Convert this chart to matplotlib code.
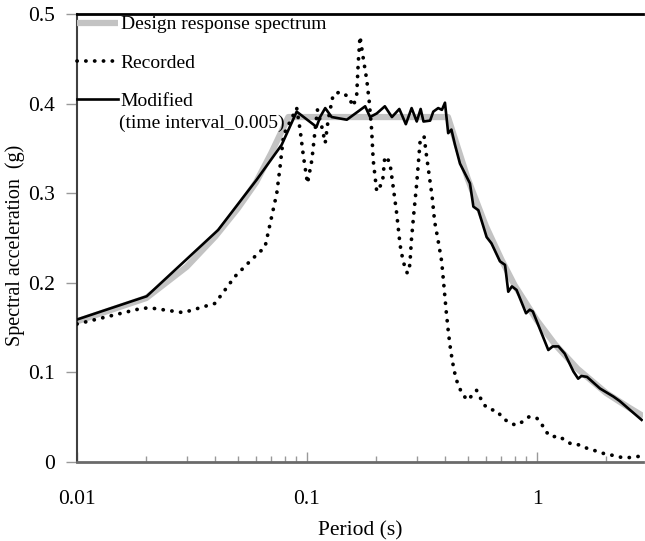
import numpy as np
import matplotlib
matplotlib.use('Agg')
import matplotlib.pyplot as plt
from matplotlib.ticker import FixedLocator, LogLocator, NullFormatter

plt.rcParams['font.family'] = ['Liberation Serif', 'DejaVu Serif']

# Design response spectrum (gray)
T_design = [0.01, 0.02, 0.03, 0.04, 0.05, 0.06, 0.07, 0.083, 0.1, 0.2, 0.3, 0.41,
            0.5, 0.6, 0.7, 0.8, 1.0, 1.2, 1.5, 2.0, 2.5, 2.9]
Sa_design = [0.157, 0.183, 0.218, 0.252, 0.283, 0.312, 0.345, 0.385, 0.385, 0.385, 0.385, 0.385,
             0.316, 0.263, 0.226, 0.197, 0.158, 0.131, 0.104, 0.077, 0.061, 0.051]

# Recorded (dotted)
T_rec = [0.01, 0.0191, 0.0208, 0.029, 0.0398, 0.044, 0.0486, 0.0575, 0.0657, 0.0739, 0.0764,
         0.0791, 0.0902, 0.0933, 0.0965, 0.1005, 0.105, 0.1085, 0.111, 0.116, 0.12, 0.1236,
         0.130, 0.139, 0.151, 0.159, 0.1645, 0.167, 0.170, 0.176, 0.182, 0.1865, 0.191, 0.194,
         0.201, 0.213, 0.218, 0.229, 0.237, 0.245, 0.254, 0.262, 0.273, 0.280, 0.2845, 0.291,
         0.30, 0.311, 0.323, 0.33, 0.35, 0.359, 0.37, 0.385, 0.394, 0.403, 0.411, 0.418, 0.429,
         0.444, 0.472, 0.50, 0.546, 0.587, 0.62, 0.67, 0.71, 0.757, 0.81, 0.866, 0.925, 0.998,
         1.05, 1.09, 1.16, 1.24, 1.32, 1.41, 1.54, 1.65, 1.75, 1.88, 2.0, 2.19, 2.34, 2.54,
         2.72, 2.92]
Sa_rec = [0.154, 0.1715, 0.172, 0.1667, 0.177, 0.192, 0.207, 0.226, 0.240, 0.300, 0.330,
          0.365, 0.395, 0.371, 0.341, 0.311, 0.337, 0.371, 0.393, 0.374, 0.356, 0.382,
          0.410, 0.413, 0.408, 0.397, 0.410, 0.445, 0.475, 0.449, 0.426, 0.402, 0.371, 0.337,
          0.302, 0.312, 0.341, 0.335, 0.307, 0.279, 0.242, 0.2235, 0.2106, 0.220, 0.248, 0.276,
          0.311, 0.361, 0.363, 0.344, 0.296, 0.268, 0.250, 0.224, 0.196, 0.168, 0.147, 0.131, 0.112,
          0.093, 0.076, 0.069, 0.080, 0.064, 0.059, 0.057, 0.049, 0.044, 0.041, 0.045, 0.0506, 0.049,
          0.042, 0.034, 0.028, 0.029, 0.0245, 0.020, 0.019, 0.0153, 0.0134, 0.0108, 0.0086, 0.007,
          0.005, 0.005, 0.006, 0.007]

# Modified (time interval_0.005) (solid)
T_mod = [0.01, 0.0201, 0.0411, 0.0604, 0.0776, 0.0902, 0.110, 0.114, 0.12, 0.128, 0.149, 0.179,
         0.188, 0.201, 0.218, 0.234, 0.252, 0.269, 0.285, 0.300, 0.312, 0.321, 0.343, 0.354,
         0.372, 0.386, 0.398, 0.411, 0.4245, 0.440, 0.4625, 0.511, 0.529, 0.556, 0.604, 0.634,
         0.690, 0.726, 0.750, 0.778, 0.815, 0.896, 0.930, 0.959, 1.12, 1.17, 1.24, 1.32, 1.44,
         1.51, 1.56, 1.65, 1.88, 2.15, 2.29, 2.54, 2.85]
Sa_mod = [0.159, 0.185, 0.259, 0.315, 0.354, 0.391, 0.374, 0.385, 0.395, 0.385, 0.382, 0.397,
          0.385, 0.389, 0.397, 0.385, 0.394, 0.377, 0.395, 0.380, 0.394, 0.380, 0.381, 0.391,
          0.395, 0.393, 0.401, 0.367, 0.371, 0.354, 0.333, 0.311, 0.285, 0.281, 0.251, 0.244,
          0.224, 0.220, 0.190, 0.196, 0.192, 0.166, 0.170, 0.168, 0.125, 0.129, 0.129, 0.121, 0.101,
          0.093, 0.096, 0.095, 0.082, 0.073, 0.068, 0.058, 0.047]

y_ticks = [0, 0.1, 0.2, 0.3, 0.4, 0.5]
y_ticklabels = ['0', '0.1', '0.2', '0.3', '0.4', '0.5']
x_ticks = [0.01, 0.1, 1]
x_ticklabels = ['0.01', '0.1', '1']

fig = plt.figure(figsize=(6.45, 5.41), dpi=100)
ax = fig.add_axes([77 / 645, 79 / 541, 566 / 645, 448 / 541])

ax.plot(T_design, Sa_design, color='#c3c3c3', lw=4.5, solid_capstyle='butt',
        label='Design response spectrum', zorder=2)
ax.plot(T_rec, Sa_rec, color='black', lw=2.7, linestyle=(0, (0.05, 2.3)),
        dash_capstyle='round', label='Recorded', zorder=3)
ax.plot(T_mod, Sa_mod, color='black', lw=1.9, label='Modified', zorder=4)

ax.set_xscale('log')
ax.set_xlim(0.01, 2.89)
ax.set_ylim(0, 0.5)

ax.xaxis.set_major_locator(FixedLocator(x_ticks))
ax.set_xticklabels(x_ticklabels)
ax.xaxis.set_minor_locator(LogLocator(base=10, subs=np.arange(2, 10)))
ax.xaxis.set_minor_formatter(NullFormatter())
ax.set_yticks(y_ticks)
ax.set_yticklabels(y_ticklabels)

ax.tick_params(axis='x', which='major', direction='in', length=7, width=1, color='#999999',
               labelsize=15.5, pad=20)
ax.tick_params(axis='x', which='minor', direction='in', length=4, width=1, color='#999999')
ax.tick_params(axis='y', which='major', direction='out', length=8, width=1, color='#999999',
               labelsize=15.5, pad=8)

ax.spines['right'].set_visible(False)
ax.spines['top'].set_linewidth(2)
ax.spines['top'].set_color('black')
ax.spines['left'].set_linewidth(1.5)
ax.spines['left'].set_color('#404040')
ax.spines['bottom'].set_linewidth(2)
ax.spines['bottom'].set_color('#6a6a6a')

ax.set_xlabel('Period (s)', fontsize=15.5, labelpad=9)
ax.set_ylabel('Spectral acceleration  (g)', fontsize=14.5, labelpad=2, y=0.484)

ax.legend(loc='upper left', bbox_to_anchor=(0, 0.996), frameon=False, fontsize=14,
          borderaxespad=0, borderpad=0, handlelength=2.1, handletextpad=0.15,
          labelspacing=1.07)
ax.text(42 / 566, (462 - 123) / 448, '(time interval_0.005)', transform=ax.transAxes,
        fontsize=14, va='center', ha='left')

fig.savefig('out.png', dpi=100)
